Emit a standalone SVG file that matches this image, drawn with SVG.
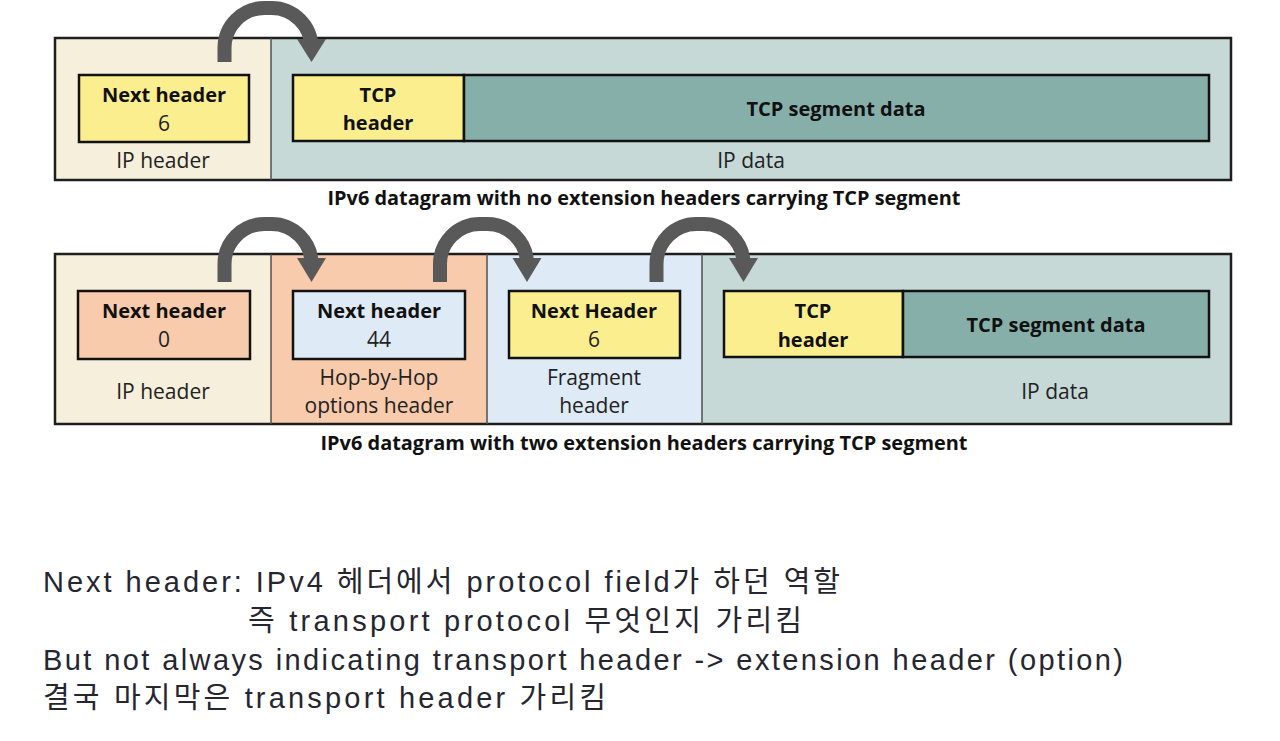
<svg xmlns="http://www.w3.org/2000/svg" width="1280" height="741" viewBox="0 0 1280 741">
<style>
.frame{stroke:#1e1e1e;stroke-width:2.5}
.div{stroke:#505050;stroke-width:1.5}
.box{stroke:#111;stroke-width:2.5}
.b{font-family:"Open Sans","Liberation Sans",sans-serif;font-weight:bold;font-size:20px;fill:#111;text-anchor:middle}
.r{font-family:"Open Sans","Liberation Sans",sans-serif;font-size:21px;fill:#222;text-anchor:middle}
.cap{font-family:"Open Sans","Liberation Sans",sans-serif;font-weight:bold;font-size:20px;fill:#111;text-anchor:middle}
.note{font-family:"Liberation Sans","Noto Sans CJK KR",sans-serif;font-size:29px;fill:#262630}
.arr{fill:none;stroke:#595959;stroke-width:14}
.head{fill:#595959}
</style>
<rect width="1280" height="741" fill="#ffffff"/>

<!-- Row 1 -->
<g id="row1-ipheader">
<rect x="55" y="38" width="216" height="142" fill="#F6EFDB"/>
</g>
<g id="row1-ipdata">
<rect x="271" y="38" width="960" height="142" fill="#C6D9D7"/>
</g>
<rect class="frame" x="55" y="38" width="1176" height="142" fill="none"/>
<line class="div" x1="271" y1="38" x2="271" y2="180"/>
<g id="row1-nh">
<rect class="box" x="79" y="75" width="170" height="67" fill="#FAEE8E"/>
<text class="b" x="164" y="102">Next header</text>
<text class="r" x="164" y="131">6</text>
</g>
<text class="r" x="163" y="168">IP header</text>
<g id="row1-tcph">
<rect class="box" x="293" y="75" width="171" height="66" fill="#FAEE8E"/>
<text class="b" x="378" y="102">TCP</text>
<text class="b" x="378" y="130">header</text>
</g>
<g id="row1-tcpd">
<rect class="box" x="464" y="75" width="745" height="66" fill="#86AFAA"/>
<text class="b" x="836" y="116">TCP segment data</text>
</g>
<text class="r" x="751" y="168">IP data</text>
<text class="cap" x="644" y="205" textLength="633" lengthAdjust="spacingAndGlyphs">IPv6 datagram with no extension headers carrying TCP segment</text>

<!-- Row 2 -->
<g id="row2-ipheader">
<rect x="55" y="254" width="216" height="170" fill="#F6EFDB"/>
<rect class="box" x="78" y="291" width="172" height="68" fill="#F8CBAD"/>
<text class="b" x="164" y="318">Next header</text>
<text class="r" x="164" y="347">0</text>
<text class="r" x="163" y="399">IP header</text>
</g>
<g id="row2-hbh">
<rect x="271" y="254" width="216" height="170" fill="#F8CBAD"/>
<rect class="box" x="293" y="291" width="172" height="68" fill="#DEEAF6"/>
<text class="b" x="379" y="318">Next header</text>
<text class="r" x="379" y="347">44</text>
<text class="r" x="379" y="385">Hop-by-Hop</text>
<text class="r" x="379" y="413">options header</text>
</g>
<g id="row2-frag">
<rect x="487" y="254" width="215" height="170" fill="#DEEAF6"/>
<rect class="box" x="509" y="291" width="171" height="67" fill="#FAEE8E"/>
<text class="b" x="594" y="318">Next Header</text>
<text class="r" x="594" y="347">6</text>
<text class="r" x="594" y="385">Fragment</text>
<text class="r" x="594" y="413">header</text>
</g>
<g id="row2-ipdata">
<rect x="702" y="254" width="529" height="170" fill="#C6D9D7"/>
<rect class="box" x="724" y="291" width="179" height="66" fill="#FAEE8E"/>
<text class="b" x="813" y="318">TCP</text>
<text class="b" x="813" y="347">header</text>
<rect class="box" x="903" y="291" width="306" height="66" fill="#86AFAA"/>
<text class="b" x="1056" y="332">TCP segment data</text>
<text class="r" x="1055" y="399">IP data</text>
</g>
<rect class="frame" x="55" y="254" width="1176" height="170" fill="none"/>
<line class="div" x1="271" y1="254" x2="271" y2="424"/>
<line class="div" x1="487" y1="254" x2="487" y2="424"/>
<line class="div" x1="702" y1="254" x2="702" y2="424"/>
<text class="cap" x="644" y="450" textLength="647" lengthAdjust="spacingAndGlyphs">IPv6 datagram with two extension headers carrying TCP segment</text>

<!-- Connectors -->
<g id="connectors">
<path class="arr" d="M224.5,62 V48 A40,40 0 0 1 264.5,8 H271.5 A40,40 0 0 1 311.5,48 V40"/>
<polygon class="head" points="297,39 326,39 311.5,62"/>
<path class="arr" d="M224.5,282 V264 A40,40 0 0 1 264.5,224 H271.5 A40,40 0 0 1 311.5,264 V259"/>
<polygon class="head" points="297,258 326,258 311.5,282"/>
<path class="arr" d="M440,282 V264 A40,40 0 0 1 480,224 H487 A40,40 0 0 1 527,264 V259"/>
<polygon class="head" points="512.5,258 541.5,258 527,282"/>
<path class="arr" d="M656.5,282 V264 A40,40 0 0 1 696.5,224 H703.5 A40,40 0 0 1 743.5,264 V259"/>
<polygon class="head" points="729,258 758,258 743.5,282"/>
</g>

<!-- Notes -->
<g id="notes">
<text class="note" x="43" y="592" textLength="797" lengthAdjust="spacing">Next header: IPv4 헤더에서 protocol field가 하던 역할</text>
<text class="note" x="248" y="631" textLength="554" lengthAdjust="spacing">즉 transport protocol 무엇인지 가리킴</text>
<text class="note" x="43" y="670" textLength="1080" lengthAdjust="spacing">But not always indicating transport header -&gt; extension header (option)</text>
<text class="note" x="43" y="708" textLength="563" lengthAdjust="spacing">결국 마지막은 transport header 가리킴</text>
</g>
</svg>
